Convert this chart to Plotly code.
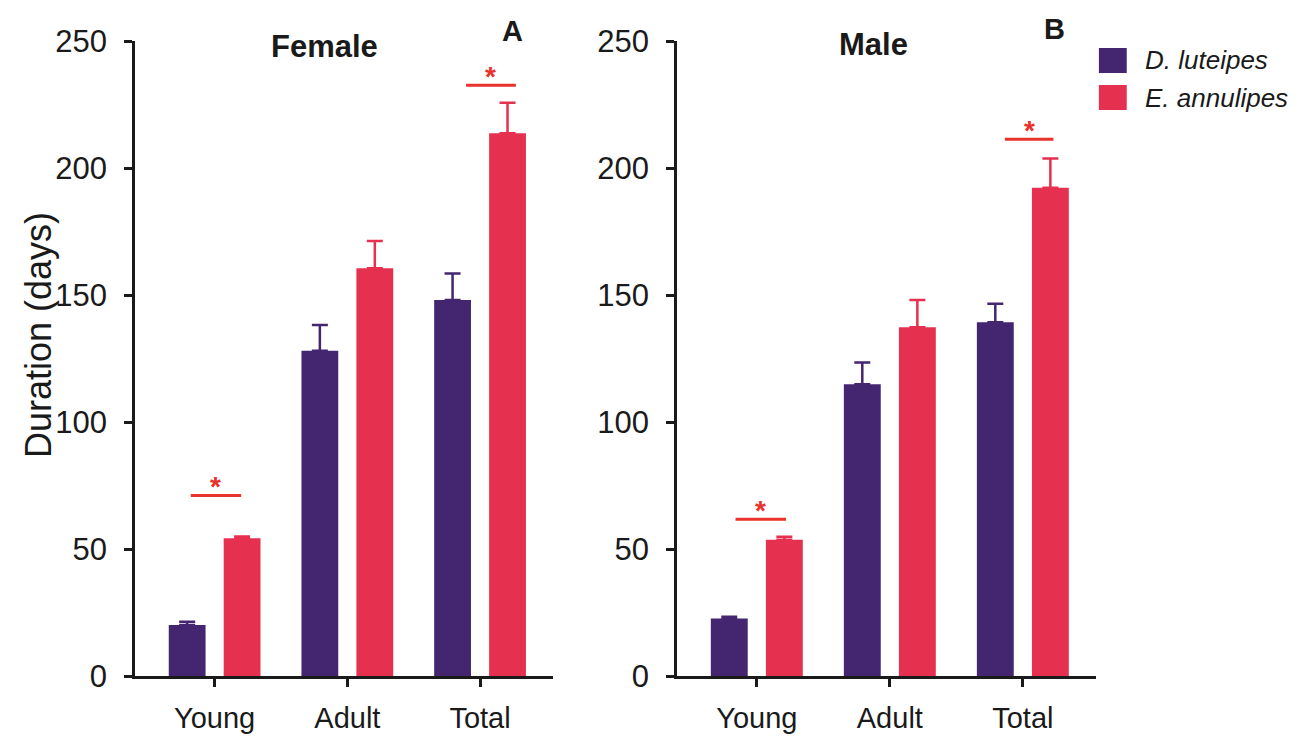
import plotly.graph_objects as go

# ---------------- data ----------------
categories = ["Young", "Adult", "Total"]
series_names = ["D. luteipes", "E. annulipes"]

female_d_mean = [20.1, 128.1, 148.0]
female_d_err = [1.3, 10.1, 10.5]
female_e_mean = [54.2, 160.5, 213.7]
female_e_err = [0.7, 10.8, 12.0]

male_d_mean = [22.6, 114.9, 139.3]
male_d_err = [0.7, 8.5, 7.3]
male_e_mean = [53.6, 137.3, 192.2]
male_e_err = [1.2, 10.7, 11.5]

# significance markers: (category, bar-line height)
female_sig_cats = ["Young", "Total"]
female_sig_y = [71.1, 232.6]
male_sig_cats = ["Young", "Total"]
male_sig_y = [61.7, 211.3]

y_ticks = [0, 50, 100, 150, 200, 250]

# ---------------- style ----------------
C_D = "#43266f"
C_E = "#e5314f"
C_SIG = "#e8322b"
C_AX = "#1a1a1a"
FONT = "Liberation Sans, Arial, sans-serif"

# horizontal extent of the significance lines relative to category centre (category units)
sig_offsets_female = [(-0.18, 0.20), (-0.105, 0.27)]
sig_offsets_male = [(-0.16, 0.22), (-0.135, 0.23)]

fig = go.Figure()


def add_bars(xaxis, yaxis, d_mean, d_err, e_mean, e_err):
    fig.add_trace(go.Bar(
        x=categories, y=d_mean, name=series_names[0], marker_color=C_D,
        marker_line_width=0, xaxis=xaxis, yaxis=yaxis, showlegend=False,
        error_y=dict(type="data", symmetric=False, array=d_err,
                     arrayminus=[0] * len(d_err), color=C_D, thickness=2.5, width=8),
    ))
    fig.add_trace(go.Bar(
        x=categories, y=e_mean, name=series_names[1], marker_color=C_E,
        marker_line_width=0, xaxis=xaxis, yaxis=yaxis, showlegend=False,
        error_y=dict(type="data", symmetric=False, array=e_err,
                     arrayminus=[0] * len(e_err), color=C_E, thickness=2.5, width=8),
    ))


add_bars("x", "y", female_d_mean, female_d_err, female_e_mean, female_e_err)
add_bars("x2", "y2", male_d_mean, male_d_err, male_e_mean, male_e_err)


def add_sig(xref, yref, cats, ys, offsets):
    for c, yv, (o0, o1) in zip(cats, ys, offsets):
        i = categories.index(c)
        fig.add_shape(type="line", xref=xref, yref=yref, x0=i + o0, x1=i + o1,
                      y0=yv, y1=yv, line=dict(color=C_SIG, width=3))
        fig.add_annotation(xref=xref, yref=yref, x=i + (o0 + o1) / 2, y=yv,
                           text="<b>*</b>", showarrow=False, yanchor="bottom",
                           yshift=-9, font=dict(family=FONT, size=28, color=C_SIG))


add_sig("x", "y", female_sig_cats, female_sig_y, sig_offsets_female)
add_sig("x2", "y2", male_sig_cats, male_sig_y, sig_offsets_male)

xaxis_common = dict(
    type="category", range=[-0.6, 2.55], showline=True, linecolor=C_AX, linewidth=2.5,
    ticks="outside", ticklen=8, tickwidth=3, tickcolor=C_AX, showgrid=False,
    zeroline=False, tickfont=dict(family=FONT, size=29, color=C_AX), ticklabelstandoff=6,
    automargin=False,
)
yaxis_common = dict(
    range=[0, 250], tickvals=y_ticks, showline=True, linecolor=C_AX, linewidth=2.5,
    ticks="outside", ticklen=8, tickwidth=2.5, tickcolor=C_AX, showgrid=False,
    zeroline=False, tickfont=dict(family=FONT, size=31, color=C_AX), ticklabelstandoff=11,
    automargin=False,
)

fig.update_layout(
    template="none",
    width=1302, height=736, autosize=False,
    margin=dict(l=135, r=206, t=41, b=60),
    plot_bgcolor="white", paper_bgcolor="white",
    barmode="group", bargap=0.172, bargroupgap=0.33,
    xaxis=dict(domain=[0, 0.435], anchor="y", **xaxis_common),
    yaxis=dict(domain=[0, 1], anchor="x", **yaxis_common),
    xaxis2=dict(domain=[0.564, 1], anchor="y2", **xaxis_common),
    yaxis2=dict(domain=[0, 1], anchor="x2", **yaxis_common),
    showlegend=False,
)

# panel titles and letters
texts = [
    ("<b>Female</b>", 0.1977, 0.9906, 31),
    ("<b>Male</b>", 0.768, 0.995, 31),
    ("<b>A</b>", 0.3923, 1.0157, 29),
    ("<b>B</b>", 0.957, 1.019, 29),
]
for t, xp, yp, s in texts:
    fig.add_annotation(xref="paper", yref="paper", x=xp, y=yp, text=t, showarrow=False,
                       xanchor="center", yanchor="middle",
                       font=dict(family=FONT, size=s, color=C_AX))

# y axis title
fig.add_annotation(xref="paper", yref="paper", x=-0.1009, y=0.537, text="Duration (days)",
                   textangle=-90, showarrow=False, xanchor="center", yanchor="middle",
                   font=dict(family=FONT, size=36, color=C_AX))

# legend (drawn manually so that the swatches match the reference size)
legend_rows = [(series_names[0], C_D, 0.989, 0.9496), (series_names[1], C_E, 0.9307, 0.8913)]
for name, col, y1, y0 in legend_rows:
    fig.add_shape(type="rect", xref="paper", yref="paper", x0=1.003, x1=1.032, y0=y0, y1=y1,
                  fillcolor=col, line=dict(width=0))
    fig.add_annotation(xref="paper", yref="paper", x=1.0489, y=(y0 + y1) / 2,
                       text="<i>%s</i>" % name, showarrow=False, xanchor="left",
                       yanchor="middle", font=dict(family=FONT, size=26, color=C_AX))

fig.write_html(
    "out.html",
    config={"displayModeBar": False},
    post_script="document.body.style.margin='0';document.body.style.padding='0';"
                "document.documentElement.style.overflow='hidden';",
)
